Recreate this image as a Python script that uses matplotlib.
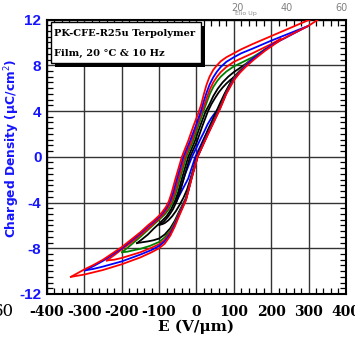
import matplotlib
matplotlib.use("Agg")
import matplotlib.pyplot as plt
from matplotlib.patches import Rectangle
from matplotlib.ticker import MultipleLocator

# P-E loops, (E in V/um, P in uC/cm^2)
# each loop: upper (descending) branch and lower (ascending) branch
red1_up = [(340, 12.3), (300, 11.95), (250, 11.25), (200, 10.55), (150, 9.85), (120, 9.4),
           (100, 9.05), (80, 8.7), (65, 8.35), (55, 8.0), (45, 7.6), (35, 7.0), (27, 6.3),
           (20, 5.5), (13, 4.6), (6, 3.9), (-8, 2.7), (-22, 1.4), (-39, 0.0), (-56, -1.9),
           (-66, -3.1), (-74, -3.9), (-82, -4.4), (-92, -4.85), (-100, -5.15), (-115, -5.6),
           (-130, -6.0), (-150, -6.6), (-175, -7.25), (-200, -7.9), (-225, -8.45),
           (-250, -9.0), (-275, -9.45), (-300, -9.85), (-336, -10.5)]
red1_lo = [(-336, -10.5), (-300, -10.3), (-250, -9.9), (-200, -9.4), (-150, -8.8),
           (-120, -8.35), (-100, -8.0), (-85, -7.6), (-70, -6.9), (-58, -6.1), (-48, -5.3),
           (-38, -4.55), (-28, -3.8), (-12, -1.8), (3, 0.0), (30, 1.9), (62, 4.1), (80, 5.5),
           (100, 6.67), (115, 7.3), (130, 7.8), (154, 8.5), (185, 9.3), (225, 10.2),
           (260, 10.8), (300, 11.45), (340, 12.3)]

blue1_up = [(300, 11.45), (250, 10.8), (200, 10.15), (150, 9.45), (120, 9.05), (100, 8.7),
            (80, 8.3), (65, 7.85), (55, 7.45), (45, 6.95), (35, 6.3), (27, 5.6), (20, 4.9),
            (12, 4.0), (-2, 2.7), (-17, 1.4), (-35, 0.0), (-52, -1.9), (-62, -3.1),
            (-71, -3.9), (-80, -4.45), (-90, -4.9), (-100, -5.25), (-115, -5.7),
            (-130, -6.1), (-150, -6.7), (-175, -7.35), (-200, -8.0), (-225, -8.55),
            (-250, -9.1), (-275, -9.55), (-299, -9.94)]
blue1_lo = [(-299, -9.94), (-275, -9.8), (-250, -9.6), (-200, -9.15), (-150, -8.55),
            (-120, -8.15), (-100, -7.8), (-85, -7.4), (-70, -6.75), (-58, -5.95),
            (-48, -5.2), (-38, -4.45), (-28, -3.75), (-12, -1.75), (3, 0.0), (30, 1.95),
            (62, 4.15), (80, 5.55), (100, 6.75), (115, 7.35), (130, 7.9), (150, 8.55),
            (200, 9.75), (250, 10.6), (300, 11.45)]

red2_up = [(225, 10.3), (200, 9.85), (175, 9.45), (150, 9.05), (120, 8.6), (100, 8.3),
           (80, 7.85), (65, 7.4), (55, 7.0), (45, 6.5), (36, 5.9), (28, 5.2), (20, 4.4),
           (15, 4.0), (1, 2.7), (-14, 1.3), (-31, 0.0), (-48, -1.9), (-58, -3.1),
           (-67, -3.9), (-77, -4.5), (-88, -5.0), (-100, -5.4), (-115, -5.85),
           (-130, -6.3), (-150, -6.85), (-175, -7.5), (-200, -8.1), (-220, -8.6),
           (-240, -9.07)]
red2_lo = [(-240, -9.07), (-220, -9.0), (-200, -8.85), (-150, -8.35), (-120, -7.95),
           (-100, -7.65), (-85, -7.25), (-70, -6.6), (-58, -5.85), (-48, -5.1),
           (-38, -4.4), (-28, -3.7), (-12, -1.7), (3, 0.0), (30, 2.0), (62, 4.2),
           (80, 5.6), (100, 6.8), (115, 7.4), (130, 7.95), (150, 8.55), (190, 9.5),
           (225, 10.3)]

green_up = [(186, 9.45), (165, 9.0), (150, 8.7), (125, 8.3), (100, 7.9), (80, 7.45),
            (65, 7.0), (55, 6.6), (45, 6.1), (36, 5.5), (28, 4.8), (19, 4.0), (5, 2.7),
            (-10, 1.3), (-27, 0.0), (-44, -1.9), (-54, -3.1), (-63, -3.9), (-73, -4.55),
            (-85, -5.05), (-100, -5.5), (-115, -5.95), (-130, -6.4), (-150, -7.0),
            (-175, -7.7), (-199, -8.35)]
green_lo = [(-199, -8.35), (-185, -8.3), (-165, -8.15), (-150, -8.05), (-125, -7.8),
            (-100, -7.45), (-85, -7.05), (-70, -6.45), (-58, -5.75), (-48, -5.0),
            (-38, -4.3), (-28, -3.65), (-12, -1.65), (3, 0.0), (30, 2.0), (62, 4.25),
            (80, 5.65), (100, 6.85), (120, 7.65), (140, 8.35), (165, 8.95), (186, 9.45)]

black1_up = [(155, 8.6), (140, 8.3), (120, 7.85), (100, 7.4), (85, 7.0), (70, 6.5),
             (57, 5.95), (45, 5.3), (35, 4.6), (25, 4.0), (10, 2.7), (-5, 1.3), (-22, 0.0),
             (-39, -1.9), (-49, -3.1), (-58, -3.9), (-68, -4.6), (-80, -5.2), (-100, -5.85),
             (-115, -6.3), (-130, -6.8), (-145, -7.2), (-159, -7.55)]
black1_lo = [(-159, -7.55), (-150, -7.5), (-130, -7.4), (-115, -7.3), (-100, -7.15),
             (-85, -6.8), (-70, -6.25), (-58, -5.6), (-48, -4.9), (-38, -4.25),
             (-28, -3.6), (-12, -1.6), (2, 0.0), (30, 2.1), (62, 4.35), (80, 5.75),
             (100, 6.95), (115, 7.5), (130, 7.95), (145, 8.35), (155, 8.6)]

black2_up = [(98, 6.9), (90, 6.7), (80, 6.4), (70, 6.05), (60, 5.65), (50, 5.15),
             (40, 4.6), (31, 4.0), (16, 2.7), (1, 1.3), (-17, 0.0), (-34, -1.9),
             (-44, -3.1), (-53, -3.9), (-63, -4.6), (-75, -5.2), (-87, -5.65), (-99, -5.95)]
black2_lo = [(-99, -5.95), (-92, -5.9), (-85, -5.8), (-75, -5.55), (-65, -5.2),
             (-55, -4.75), (-45, -4.2), (-35, -3.6), (-25, -2.85), (-12, -1.5), (1, 0.0),
             (30, 2.3), (62, 4.6), (75, 5.5), (88, 6.3), (98, 6.9)]

blue2_up = [(58, 4.15), (50, 3.85), (40, 3.4), (30, 2.85), (20, 2.15), (10, 1.5), (0, 0.8),
            (-12, 0.0), (-30, -1.5), (-42, -2.7), (-50, -3.4), (-54, -3.9)]
blue2_lo = [(-54, -3.9), (-46, -3.4), (-38, -2.9), (-22, -1.9), (-3, 0.0), (20, 1.6),
            (40, 2.9), (50, 3.55), (58, 4.15)]

loops = [
    (blue2_up, blue2_lo, "#0000ff"),
    (black2_up, black2_lo, "black"),
    (black1_up, black1_lo, "black"),
    (green_up, green_lo, "#008000"),
    (red2_up, red2_lo, "#ff0000"),
    (blue1_up, blue1_lo, "#0000ff"),
    (red1_up, red1_lo, "#ff0000"),
]

x_ticks = [-400, -300, -200, -100, 0, 100, 200, 300, 400]
y_ticks = [-12, -8, -4, 0, 4, 8, 12]

fig = plt.figure(figsize=(3.55, 3.37), dpi=100)
ax = fig.add_axes([0.1324, 0.1276, 0.842, 0.8145])

for up, lo, col in loops:
    for branch in (up, lo):
        ax.plot([p[0] for p in branch], [p[1] for p in branch], color=col, lw=1.3,
                zorder=3)

ax.set_xlim(-400, 400)
ax.set_ylim(-12, 12)
ax.set_xticks(x_ticks)
ax.set_yticks(y_ticks)
ax.set_xticklabels([str(v) for v in x_ticks], fontfamily="DejaVu Serif",
                   fontweight="bold", fontsize=10)
ax.set_yticklabels([str(v) for v in y_ticks], fontfamily="Liberation Sans",
                   fontweight="bold", fontsize=11, color="#1414ff")
ax.xaxis.set_minor_locator(MultipleLocator(20))
ax.yaxis.set_minor_locator(MultipleLocator(0.5))
ax.tick_params(which="both", direction="in", top=True, right=True)
ax.tick_params(which="major", length=0)
ax.tick_params(axis="x", which="major", pad=8)
ax.tick_params(axis="y", which="major", pad=4)
ax.tick_params(which="minor", length=4, width=0.9)
ax.grid(True, which="major", color="0.2", lw=1.0, zorder=1)
for s in ax.spines.values():
    s.set_linewidth(1.5)

ax.set_xlabel("E (V/\u03bcm)", fontfamily="DejaVu Serif", fontweight="bold",
              fontsize=11, labelpad=0)
ax.set_ylabel("Charged Density (\u03bcC/cm$^2$)", fontweight="bold", fontsize=8.8,
              color="#1414ff")
ax.yaxis.set_label_coords(-0.082, 0.53)

# label box with drop shadow
fig.patches.append(Rectangle((55 / 355, 1 - 67 / 337), 150 / 355, 41 / 337,
                             transform=fig.transFigure, facecolor="black",
                             edgecolor="none", zorder=5))
fig.patches.append(Rectangle((51 / 355, 1 - 63 / 337), 150 / 355, 41 / 337,
                             transform=fig.transFigure, facecolor="white",
                             edgecolor="black", lw=1.0, zorder=6))
fig.text(54 / 355, 1 - 34 / 337, "PK-CFE-R25u Terpolymer", fontfamily="DejaVu Serif",
         fontweight="bold", fontsize=7.1, va="center", zorder=7)
fig.text(54 / 355, 1 - 53 / 337, "Film, 20 \u00b0C & 10 Hz", fontfamily="DejaVu Serif",
         fontweight="bold", fontsize=7.1, va="center", zorder=7)

# bits of neighbouring panels cut into the picture
for lab, px in (("20", 237), ("40", 287), ("60", 341)):
    fig.text(px / 355, 1 - 8 / 337, lab, fontsize=7, color="0.5", ha="center",
             va="center")
fig.text(235 / 355, 1 - 14 / 337, "Elio Up", fontsize=4.5, color="0.55", ha="left",
         va="center")
fig.text(14 / 355, 1 - 311 / 337, "60", fontfamily="DejaVu Serif", fontsize=12,
         ha="right", va="center")

fig.savefig("out.png", dpi=100)
